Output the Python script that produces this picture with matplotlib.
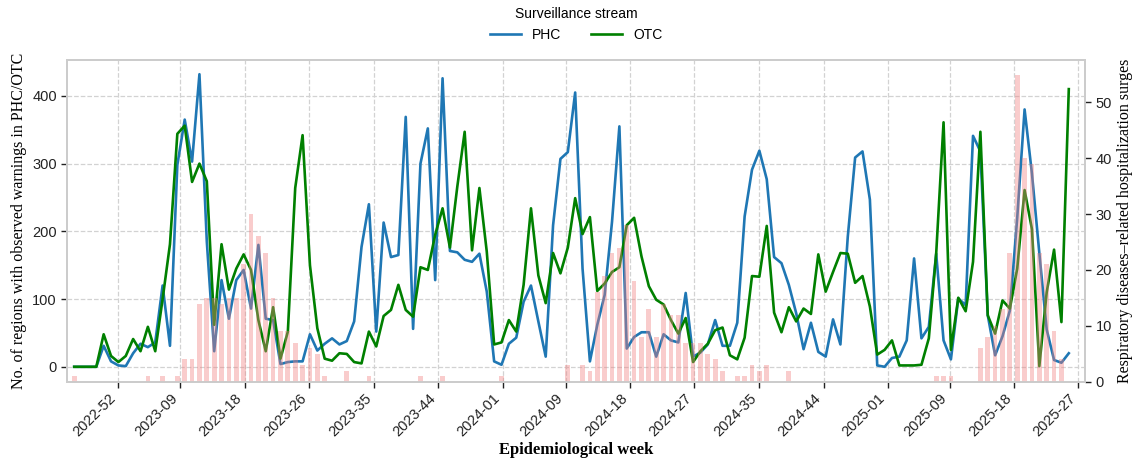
import datetime as dt
import matplotlib
matplotlib.use("Agg")
import matplotlib.pyplot as plt
import matplotlib.dates as mdates
from matplotlib.ticker import FuncFormatter
import pandas as pd

# weekly series, first week starting 2022-11-20
START_WEEK = "2022-11-20"

# PHC warnings (no. of regions)
phc = [0, 0, 0, 0, 31, 8, 2, 1, 20, 34, 29, 36, 120, 31, 298, 365, 303, 432, 185, 23,
       128, 71, 128, 143, 86, 180, 71, 69, 4, 7, 8, 8, 48, 24, 34, 42, 33, 38, 67, 177,
       240, 52, 213, 162, 165, 369, 56, 300, 352, 128, 426, 171, 169, 158, 155, 167, 111, 8, 3, 34,
       43, 96, 120, 67, 15, 209, 307, 317, 405, 145, 8, 62, 106, 214, 355, 27, 44, 51, 51, 15,
       48, 39, 36, 109, 15, 21, 33, 69, 31, 31, 65, 222, 291, 319, 277, 162, 153, 121, 79, 26,
       65, 22, 15, 70, 33, 192, 309, 318, 247, 2, 0, 13, 15, 39, 160, 42, 59, 167, 39, 11,
       101, 91, 341, 318, 76, 17, 45, 83, 220, 380, 285, 168, 55, 10, 6, 20]

# OTC warnings (no. of regions)
otc = [0, 0, 0, 0, 48, 16, 7, 16, 41, 23, 59, 23, 100, 181, 344, 356, 273, 300, 274, 62,
       181, 114, 145, 166, 143, 69, 23, 88, 12, 52, 264, 342, 150, 57, 12, 9, 20, 19, 7, 5,
       52, 30, 75, 84, 121, 84, 74, 147, 143, 195, 234, 176, 266, 347, 172, 264, 170, 33, 36, 69,
       52, 121, 234, 135, 94, 168, 138, 176, 249, 196, 221, 112, 123, 140, 147, 209, 220, 163, 119, 99,
       92, 69, 49, 72, 7, 23, 34, 54, 58, 17, 11, 43, 134, 133, 208, 80, 51, 88, 67, 86,
       78, 166, 111, 140, 168, 167, 124, 134, 89, 18, 25, 39, 2, 2, 2, 3, 42, 167, 361, 25,
       102, 82, 155, 347, 76, 49, 98, 86, 145, 261, 203, 1, 110, 173, 66, 410]

# hospitalization surges
surges = [1, 0, 0, 0, 0, 0, 0, 0, 0, 0, 1, 0, 1, 0, 1, 4, 4, 14, 15, 15,
          14, 15, 15, 21, 30, 26, 23, 15, 9, 9, 7, 3, 6, 5, 1, 0, 0, 2, 0, 0,
          1, 0, 0, 0, 0, 0, 0, 1, 0, 0, 1, 0, 0, 0, 0, 0, 0, 0, 1, 0,
          0, 0, 0, 0, 0, 0, 0, 3, 0, 3, 2, 16, 19, 23, 24, 28, 18, 8, 13, 8,
          14, 12, 12, 7, 7, 7, 5, 4, 2, 0, 1, 1, 3, 2, 3, 0, 0, 2, 0, 0,
          0, 0, 0, 0, 0, 0, 0, 0, 0, 0, 0, 0, 0, 0, 0, 0, 0, 1, 1, 1,
          0, 0, 0, 6, 8, 10, 13, 23, 55, 40, 39, 23, 21, 9, 4, 0]

weeks = pd.date_range(START_WEEK, periods=len(phc), freq="7D")

SANS = ["Liberation Sans", "DejaVu Sans"]
SERIF = ["Liberation Serif", "DejaVu Serif"]
plt.rcParams["font.family"] = SANS

fig = plt.figure(figsize=(11.32, 4.58), dpi=100)
ax = fig.add_axes([0.0595, 0.1666, 0.899, 0.7024])

ax.plot(weeks, phc, color="#1f77b4", lw=1.9, label="PHC", zorder=3)
ax.plot(weeks, otc, color="green", lw=1.9, label="OTC", zorder=3)

ax2 = ax.twinx()
ax2.bar(weeks, surges, width=4.5, color="lightcoral", alpha=0.4, zorder=2)

ax.set_xlim(dt.datetime(2022, 11, 13, 12), dt.datetime(2025, 7, 7, 10))
ax.set_ylim(-22, 453)
ax2.set_ylim(0, 57.6)
ax.set_yticks([0, 100, 200, 300, 400])
ax2.set_yticks([0, 10, 20, 30, 40, 50])

ax.xaxis.set_major_locator(mdates.MonthLocator(bymonth=[1, 3, 5, 7, 9, 11], bymonthday=1))
ax.xaxis.set_major_formatter(FuncFormatter(lambda x, pos: mdates.num2date(x).strftime("%G-%V")))
for lbl in ax.get_xticklabels():
    lbl.set_rotation(45)
    lbl.set_ha("right")

ax.grid(True, ls="--", color="#d2d2d2", lw=0.9, zorder=0)
ax.set_axisbelow(True)
ax2.grid(False)

for a in (ax, ax2):
    for s in a.spines.values():
        s.set_color("#cccccc")
        s.set_linewidth(1.3)
    a.tick_params(labelsize=10.5, colors="#222222", length=4, width=1)
ax.tick_params(axis="x", pad=3)

ax.set_ylabel("No. of regions with observed warnings in PHC/OTC", family=SERIF, fontsize=11.5)
ax2.set_ylabel("Respiratory diseases\u2013related hospitalization surges", family=SERIF, fontsize=11.5)
ax.set_xlabel("Epidemiological week", family=SERIF, fontsize=12, fontweight="bold", labelpad=2)

ax.legend(loc="lower center", bbox_to_anchor=(0.5, 1.025), ncol=2, frameon=False,
          title="Surveillance stream", fontsize=10, title_fontsize=10,
          handlelength=2.2, columnspacing=2.2, borderaxespad=0.3)

fig.savefig("out.png", dpi=100)
